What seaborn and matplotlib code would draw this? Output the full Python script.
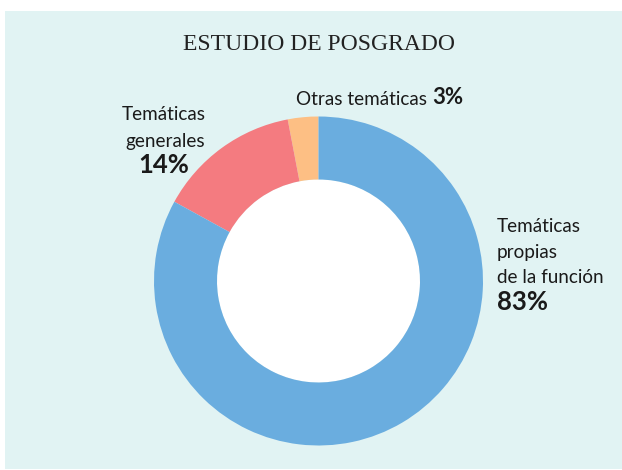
import matplotlib
matplotlib.use("Agg")
import matplotlib.pyplot as plt
from matplotlib.patches import Rectangle, Circle
import seaborn as sns

# data
categories = ["Otras temáticas", "Temáticas generales", "Temáticas propias de la función"]
shares = [3, 14, 83]
colors = ["#fdbf84", "#f47b80", "#6aaddf"]

title = "ESTUDIO DE POSGRADO"
bg = "#e1f3f3"

sns.set_theme(style="white")
plt.rcParams["font.family"] = ["Lato", "DejaVu Sans"]

fig = plt.figure(figsize=(6.22, 4.70), dpi=100)
ax = fig.add_axes([0, 0, 1, 1])

# teal panel behind the chart
ax.add_patch(Rectangle((5, 1), 617, 458, facecolor=bg, edgecolor="none", zorder=0))

# donut: starts at the top and runs counter-clockwise
cx, cy, r_out, ring = 318.5, 189, 164.5, 63
ax.pie(shares, colors=colors, startangle=90, counterclock=True,
       center=(cx, cy), radius=r_out, frame=True,
       wedgeprops=dict(width=ring, edgecolor="none"))
ax.add_patch(Circle((cx, cy), r_out - ring, facecolor="white", edgecolor="none", zorder=0.5))
ax.set_xlim(0, 622)
ax.set_ylim(0, 470)
ax.set_aspect("equal")
ax.axis("off")

ax.text(319, 420, title, ha="center", va="baseline", fontsize=17,
        family=["Liberation Serif", "DejaVu Serif"], color="#222222")

txt = "#1a1a1a"
# Otras temáticas 3%
t1 = ax.text(296, 365, "Otras temáticas ", ha="left", va="baseline",
             fontsize=13.6, color=txt)
ax.annotate(f"{shares[0]}%", xy=(1, 0), xycoords=t1, ha="left", va="bottom",
            fontsize=16, fontweight="bold", color=txt)

# Temáticas generales 14%
ax.text(206, 350, "Temáticas", ha="right", va="baseline", fontsize=13.6, color=txt)
ax.text(205, 323, "generales", ha="right", va="baseline", fontsize=13.6, color=txt)
ax.text(164, 297, f"{shares[1]}%", ha="center", va="baseline", fontsize=18.5,
        fontweight="bold", color=txt)

# Temáticas propias de la función 83%
ax.text(497, 238, "Temáticas", ha="left", va="baseline", fontsize=13.6, color=txt)
ax.text(497, 212, "propias", ha="left", va="baseline", fontsize=13.6, color=txt)
ax.text(497, 187, "de la función", ha="left", va="baseline", fontsize=13.6, color=txt)
ax.text(497, 160, f"{shares[2]}%", ha="left", va="baseline", fontsize=18.5,
        fontweight="bold", color=txt)

fig.savefig("out.png", dpi=100, facecolor="white")
